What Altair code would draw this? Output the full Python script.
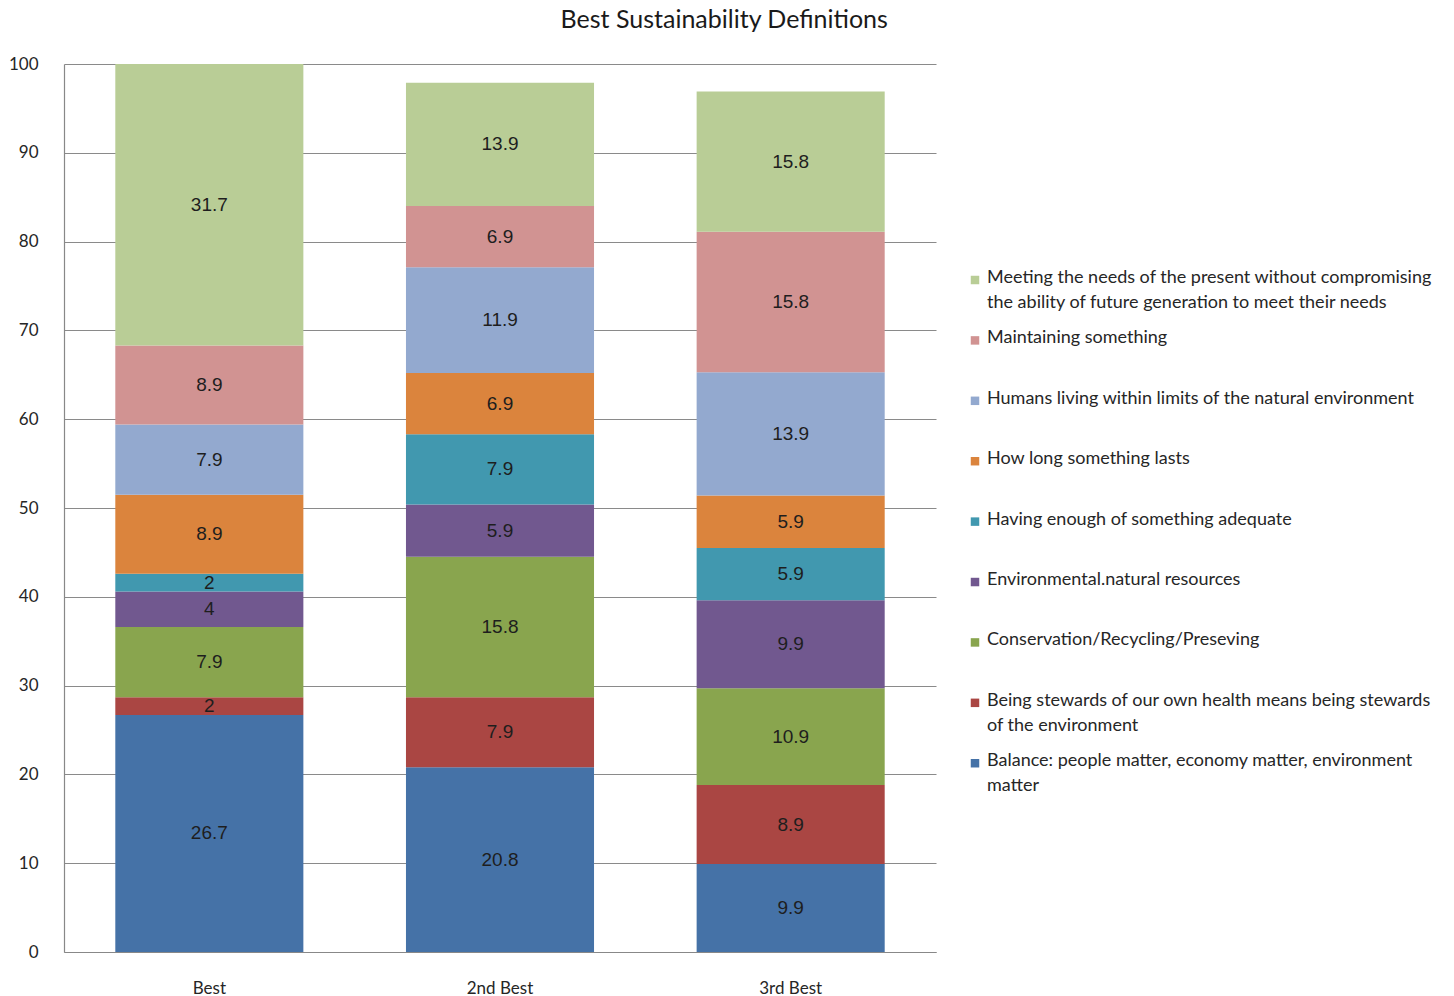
import altair as alt
import pandas as pd

# Survey responses: share of respondents (%) choosing each definition
categories = ["Best", "2nd Best", "3rd Best"]

# Series listed bottom of stack first
series = [
    "Balance: people matter, economy matter, environment matter",
    "Being stewards of our own health means being stewards of the environment",
    "Conservation/Recycling/Preseving",
    "Environmental.natural resources",
    "Having enough  of something  adequate",
    "How long  something  lasts",
    "Humans living  within  limits of the natural environment",
    "Maintaining something",
    "Meeting the needs  of the present without  compromising the ability of future generation to meet their needs",
]

# Legend text, wrapped as in the figure ("|" marks a line break)
legend_text = [
    "Balance: people matter, economy matter, environment|matter",
    "Being stewards of our own health means being stewards|of the environment",
    "Conservation/Recycling/Preseving",
    "Environmental.natural resources",
    "Having enough of something adequate",
    "How long something lasts",
    "Humans living within limits of the natural environment",
    "Maintaining something",
    "Meeting the needs of the present without compromising|the ability of future generation to meet their needs",
]

colors = [
    "#4572A7", "#AA4643", "#89A54E", "#71588F", "#4198AF",
    "#DB843D", "#93A9CF", "#D19392", "#B9CD96",
]

best = [26.7, 2, 7.9, 4, 2, 8.9, 7.9, 8.9, 31.7]
second_best = [20.8, 7.9, 15.8, 5.9, 7.9, 6.9, 11.9, 6.9, 13.9]
third_best = [9.9, 8.9, 10.9, 9.9, 5.9, 5.9, 13.9, 15.8, 15.8]

rows = []
for cat, vals in zip(categories, [best, second_best, third_best]):
    for i, (s, v) in enumerate(zip(series, vals)):
        rows.append({"cat": cat, "series": s, "idx": i, "value": v,
                     "label": f"{v:g}"})
df = pd.DataFrame(rows)

# Legend rows: top series of the stack is listed first
legend_df = pd.DataFrame({
    "series": series,
    "text": legend_text,
    "rank": list(range(len(series) - 1, -1, -1)),
})

FONT = "Lato"
LABEL_FONT = "Liberation Sans"

color_scale = alt.Scale(domain=series, range=colors)

base = alt.Chart(df).transform_stack(
    stack="value",
    groupby=["cat"],
    as_=["v0", "v1"],
    sort=[alt.SortField("idx", order="ascending")],
).transform_calculate(mid="(datum.v0 + datum.v1) / 2")

x_enc = alt.X(
    "cat:N",
    sort=categories,
    scale=alt.Scale(paddingInner=0.353, paddingOuter=0.1765),
    axis=alt.Axis(
        title=None, labelAngle=0, ticks=False, labelPadding=28,
        labelFont=FONT, labelFontSize=17, labelColor="#262626",
        domainColor="#888888", domainWidth=1.2,
    ),
)

bars = base.mark_bar(stroke=None).encode(
    x=x_enc,
    y=alt.Y(
        "v0:Q",
        scale=alt.Scale(domain=[0, 100], nice=False),
        axis=alt.Axis(
            title=None, values=list(range(0, 101, 10)), ticks=False,
            labelPadding=26, labelFont=FONT, labelFontSize=17,
            labelColor="#262626", gridColor="#8a8a8a", gridWidth=1.1,
            domainColor="#888888", domainWidth=1.2,
        ),
    ),
    y2="v1:Q",
    color=alt.Color("series:N", scale=color_scale, legend=None),
)

labels = base.mark_text(
    font=LABEL_FONT, fontSize=19, color="#1e1e1e", baseline="middle"
).encode(
    x=alt.X("cat:N", sort=categories),
    y=alt.Y("mid:Q"),
    text="label:N",
)

main = alt.layer(bars, labels).properties(width=872, height=888)

# Legend panel: entries spaced evenly down a linear index scale
leg_y = alt.Y(
    "rank:Q",
    scale=alt.Scale(domain=[-3.576, 11.125], reverse=True, nice=False, zero=False),
    axis=None,
)

leg_sym = alt.Chart(legend_df).mark_point(
    shape="square", filled=True, size=72, opacity=1
).encode(
    x=alt.value(5),
    y=leg_y,
    color=alt.Color("series:N", scale=color_scale, legend=None),
)

leg_txt = alt.Chart(legend_df).mark_text(
    align="left", baseline="top", dy=-11, lineBreak="|", lineHeight=25,
    font=FONT, fontSize=18, color="#262626",
).encode(
    x=alt.value(17),
    y=leg_y,
    text="text:N",
)

legend_panel = alt.layer(leg_sym, leg_txt).properties(width=470, height=888)

chart = alt.hconcat(main, legend_panel, spacing=34).properties(
    title=alt.Title(
        "Best  Sustainability  Definitions",
        font=FONT, fontSize=25, fontWeight="normal", color="#1a1a1a",
        anchor="middle", offset=22,
    ),
    padding={"left": 8, "top": 8, "right": 5, "bottom": 5},
).configure_view(stroke=None)

chart.save("out.html", embed_options={"renderer": "svg", "actions": False})
